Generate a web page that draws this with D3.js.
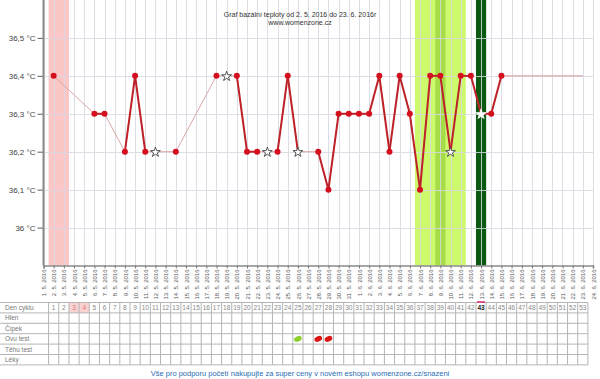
<!DOCTYPE html>
<html><head><meta charset="utf-8">
<script src="https://cdn.jsdelivr.net/npm/d3@7"></script>
<style>body{margin:0;background:#fff}svg{display:block;font-family:"Liberation Sans",Arial,sans-serif}</style>
</head><body><svg id="c" width="600" height="379"></svg>
<script>
// ---- data ----
const titleLines = ["Graf bazální teploty od 2. 5. 2016 do 23. 6. 2016r", "www.womenzone.cz"];
const axisStart = new Date(2016, 4, 1), axisEnd = new Date(2016, 5, 24);
const yTicks = [36.0, 36.1, 36.2, 36.3, 36.4, 36.5];
const yTickLabels = ["36 °C", "36,1 °C", "36,2 °C", "36,3 °C", "36,4 °C", "36,5 °C"];
const tempDates = ["2. 5. 2016","6. 5. 2016","7. 5. 2016","9. 5. 2016","10. 5. 2016","11. 5. 2016","12. 5. 2016","14. 5. 2016",
  "18. 5. 2016","19. 5. 2016","20. 5. 2016","21. 5. 2016","22. 5. 2016","23. 5. 2016","24. 5. 2016","25. 5. 2016","26. 5. 2016",
  "28. 5. 2016","29. 5. 2016","30. 5. 2016","31. 5. 2016","1. 6. 2016","2. 6. 2016","3. 6. 2016","4. 6. 2016","5. 6. 2016",
  "6. 6. 2016","7. 6. 2016","8. 6. 2016","9. 6. 2016","10. 6. 2016","11. 6. 2016","12. 6. 2016","13. 6. 2016","14. 6. 2016","15. 6. 2016"];
const tempValues = [36.4,36.3,36.3,36.2,36.4,36.2,36.2,36.2,
  36.4,36.4,36.4,36.2,36.2,36.2,36.2,36.4,36.2,
  36.2,36.1,36.3,36.3,36.3,36.3,36.4,36.2,36.4,
  36.3,36.1,36.4,36.4,36.2,36.4,36.4,36.3,36.3,36.4];
const tempMarkers = ["dot","dot","dot","dot","dot","dot","excluded","dot",
  "dot","excluded","dot","dot","dot","excluded","dot","dot","star",
  "dot","dot","dot","dot","dot","dot","dot","dot","dot",
  "dot","dot","dot","dot","star","dot","dot","today","dot","dot"];
const projectionDates = ["15. 6. 2016", "23. 6. 2016"];
const projectionValue = 36.4;
const menstruationDates = ["2. 5. 2016", "3. 5. 2016"];
const fertileDates = ["7. 6. 2016", "11. 6. 2016"];
const peakDates = ["9. 6. 2016", "9. 6. 2016"];
const todayDate = "13. 6. 2016";
const tableRows = ["Den cyklu", "Hlen", "Čípek", "Ovu test", "Těhu test", "Léky"];
const cycleDays = d3.range(1, 54);
const cycleHighlightDays = [3, 4];
const cycleToday = 43;
const ovuDays = [25, 27, 28];
const ovuResults = ["neg", "pos", "pos"];
const footerText = "Vše pro podporu početí nakupujte za super ceny v novém eshopu womenzone.cz/snazeni";

// ---- setup ----
const svg = d3.select("#c");
const fmt = d3.timeFormat("%-d. %-m. %Y");
const dayLabels = d3.timeDay.range(axisStart, d3.timeDay.offset(axisEnd, 1)).map(fmt);
const idx = s => dayLabels.indexOf(s);
const plotTop = 0, plotBottom = 265.5;
const x = d3.scaleLinear().domain([0, dayLabels.length - 1]).range([43.5, 593]);
const y = d3.scaleLinear().domain([35.9, 36.6]).range([plotBottom, plotTop]);
const step = x(1) - x(0);

// bands
function band(d0, d1, color) {
  svg.append("rect").attr("x", x(idx(d0) - 0.5)).attr("width", x(idx(d1) + 0.5) - x(idx(d0) - 0.5))
    .attr("y", plotTop).attr("height", plotBottom - plotTop).attr("fill", color);
}
band(menstruationDates[0], menstruationDates[1], "#fbc6c6");
band(fertileDates[0], fertileDates[1], "#ccfa6c");
band(peakDates[0], peakDates[1], "#a6dc48");
band(todayDate, todayDate, "#0c5a12");

// grid
const grid = svg.append("g").attr("stroke", "#d8d8e2").attr("stroke-width", 1).attr("opacity", 0.85);
grid.selectAll("line.v").data(dayLabels).join("line")
  .attr("x1", (d, i) => Math.round(x(i)) + 0.5).attr("x2", (d, i) => Math.round(x(i)) + 0.5)
  .attr("y1", plotTop).attr("y2", plotBottom);
grid.selectAll("line.h").data(yTicks).join("line")
  .attr("x1", x(0)).attr("x2", x(dayLabels.length - 1))
  .attr("y1", d => Math.round(y(d)) + 0.5).attr("y2", d => Math.round(y(d)) + 0.5);

// axes
const yAxis = d3.axisLeft(y).tickValues(yTicks).tickFormat((d, i) => yTickLabels[i]).tickSize(6).tickPadding(2);
const gy = svg.append("g").attr("transform", `translate(${x(0)},0)`).call(yAxis);
gy.select(".domain").remove();
gy.selectAll(".tick line").attr("stroke", "#777").attr("stroke-width", 1.2);
gy.selectAll(".tick text").attr("font-size", 8).attr("fill", "#444").attr("font-family", "Liberation Sans, Arial, sans-serif");
svg.append("line").attr("x1", x(0)).attr("x2", x(0)).attr("y1", plotTop).attr("y2", plotBottom).attr("stroke", "#8a8a8a").attr("stroke-width", 2);

const xAxis = d3.axisBottom(x).tickValues(d3.range(dayLabels.length)).tickFormat(i => dayLabels[i]).tickSize(3).tickPadding(2);
const gx = svg.append("g").attr("transform", `translate(0,${plotBottom})`).call(xAxis);
gx.select(".domain").attr("stroke", "#8a8a8a").attr("stroke-width", 1.5);
gx.selectAll(".tick line").attr("stroke", "#777");
gx.selectAll(".tick text").attr("font-size", 6).attr("fill", "#555")
  .attr("font-family", "Liberation Sans, Arial, sans-serif")
  .attr("text-anchor", "end").attr("transform", "rotate(-90)").attr("x", -4).attr("y", 0).attr("dy", "0.35em");

// title
svg.selectAll("text.title").data(titleLines).join("text")
  .attr("x", 300).attr("y", (d, i) => 16.5 + i * 8.5).attr("text-anchor", "middle")
  .attr("font-size", 7).attr("fill", "#333").text(d => d);

// series
const pts = tempDates.map((d, i) => ({ i: idx(d), v: tempValues[i], m: tempMarkers[i] }));
const counted = pts.filter(p => p.m !== "excluded");
const thinLine = d3.line().x(p => x(p.i)).y(p => y(p.v));
svg.append("path").datum(counted).attr("d", thinLine).attr("fill", "none").attr("stroke", "#dca6a6").attr("stroke-width", 1);
svg.append("path").datum(projectionDates.map(d => ({ i: idx(d), v: projectionValue })))
  .attr("d", thinLine).attr("fill", "none").attr("stroke", "#d49a9a").attr("stroke-width", 1);
const segs = [];
for (let k = 1; k < counted.length; k++) if (counted[k].i - counted[k - 1].i === 1) segs.push([counted[k - 1], counted[k]]);
svg.append("g").selectAll("path").data(segs).join("path").attr("d", thinLine)
  .attr("fill", "none").attr("stroke", "#be2229").attr("stroke-width", 2);

svg.append("g").selectAll("circle").data(pts.filter(p => p.m === "dot")).join("circle")
  .attr("cx", p => x(p.i)).attr("cy", p => y(p.v)).attr("r", 3).attr("fill", "#d4101e");
const star = d3.symbol().type(d3.symbolStar).size(30);
svg.append("g").selectAll("path").data(pts.filter(p => p.m !== "dot")).join("path")
  .attr("d", star).attr("transform", p => `translate(${x(p.i)},${y(p.v) + 0.5})`)
  .attr("fill", "#fff").attr("stroke", p => p.m === "today" ? "#fff" : "#444").attr("stroke-width", 0.9);

// table
const tTop = 302.5, rowH = 10.4, tRight = x(53.5);
const tbl = svg.append("g");
cycleHighlightDays.forEach(k => tbl.append("rect").attr("x", x(k - 0.5)).attr("y", tTop).attr("width", step).attr("height", rowH).attr("fill", "#f9d2d2"));
tbl.selectAll("line.h").data(d3.range(tableRows.length + 1)).join("line")
  .attr("x1", 0).attr("x2", tRight).attr("y1", r => tTop + r * rowH).attr("y2", r => tTop + r * rowH)
  .attr("stroke", "#b5b5b5").attr("stroke-width", 1);
tbl.selectAll("line.v").data(d3.range(cycleDays.length + 1)).join("line")
  .attr("x1", k => x(k + 0.5)).attr("x2", k => x(k + 0.5)).attr("y1", tTop).attr("y2", tTop + tableRows.length * rowH)
  .attr("stroke", "#b5b5b5").attr("stroke-width", 1);
tbl.selectAll("text.row").data(tableRows).join("text")
  .attr("x", 5).attr("y", (d, r) => tTop + r * rowH + rowH / 2 + 2.3).attr("font-size", 6.5).attr("fill", "#777").text(d => d);
tbl.selectAll("text.day").data(cycleDays).join("text")
  .attr("x", k => x(k)).attr("y", tTop + rowH / 2 + 2.3).attr("text-anchor", "middle")
  .attr("font-size", 6.5).attr("font-weight", k => k === cycleToday ? "bold" : null)
  .attr("fill", k => k === cycleToday ? "#222" : (cycleHighlightDays.includes(k) ? "#d77" : "#888")).text(k => k);
tbl.append("line").attr("x1", x(cycleToday - 0.4)).attr("x2", x(cycleToday + 0.4)).attr("y1", tTop - 0.5).attr("y2", tTop - 0.5)
  .attr("stroke", "#e0307a").attr("stroke-width", 1.6);
const ovuColor = { neg: "#8ed12c", pos: "#dd1414" };
tbl.selectAll("ellipse").data(ovuDays).join("ellipse")
  .attr("transform", (k, j) => `translate(${x(k)},${tTop + 3.5 * rowH}) rotate(-25)`)
  .attr("rx", 4).attr("ry", 2.6).attr("fill", (k, j) => ovuColor[ovuResults[j]]);

// footer
svg.append("text").attr("x", 300).attr("y", 376).attr("text-anchor", "middle").attr("font-size", 7.5)
  .attr("fill", "#2a6db3").text(footerText);
</script></body></html>
